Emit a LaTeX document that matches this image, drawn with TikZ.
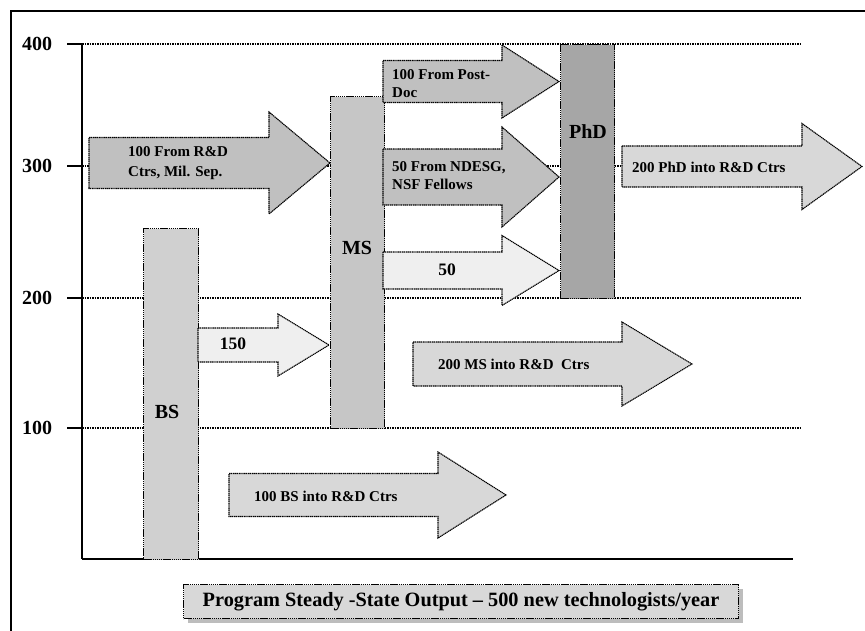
\documentclass[tikz,border=0pt]{standalone}
\usepackage{fontspec}
\setmainfont{Liberation Serif}
\definecolor{gBS}{HTML}{D0D0D0}
\definecolor{gMS}{HTML}{C6C6C6}
\definecolor{gPhD}{HTML}{A6A6A6}
\definecolor{gMid}{HTML}{C0C0C0}
\definecolor{gLight}{HTML}{EFEFEF}
\definecolor{gOut}{HTML}{D8D8D8}
\definecolor{gShadow}{HTML}{BDBDBD}
\newcommand\blkarrow[7]{\draw[arrowbox,fill=#1] (#2,{#5-#6}) -- (#3,{#5-#6}) -- (#3,{#5-#7}) -- (#4,#5) -- (#3,{#5+#7}) -- (#3,{#5+#6}) -- (#2,{#5+#6}) -- cycle;}
\tikzset{
  dotline/.style={draw=black, line width=1.1pt, dash pattern=on 1.3pt off 0.6pt},
  arrowbox/.style={dotline, line join=miter},
  barbox/.style={dotline, rectangle, inner sep=0pt, anchor=north west},
  grid line/.style={draw=black, line width=1.5pt, dash pattern=on 1.8pt off 0.7pt},
  axis line/.style={draw=black, line width=2pt},
  ticklbl/.style={font=\fontsize{20}{22}\selectfont\bfseries, inner sep=0pt},
  barlbl/.style={font=\fontsize{20}{22}\selectfont\bfseries, inner sep=0pt},
  arrlbl/.style={font=\fontsize{15}{18}\selectfont\bfseries, inner sep=0pt, anchor=west, align=left},
  numlbl/.style={font=\fontsize{17.5}{20}\selectfont\bfseries, inner sep=0pt},
}
\begin{document}
\begin{tikzpicture}[x=1pt,y=-1pt]
\useasboundingbox (0,0) rectangle (865,631);
% outer frame
\draw[line width=1.5pt] (11,640) -- (11,11) -- (870,11);
% grid lines
\foreach \yy in {44,166,298,428} {
  \draw[grid line] (82,\yy) -- (800,\yy);
  \draw[axis line] (67,\yy) -- (82,\yy);
}
% axes
\coordinate (axtop) at (82,44);
\coordinate (axorig) at (82,559);
\coordinate (axright) at (793,559);
\draw[axis line] (axtop) -- (axorig);
\draw[axis line, line width=2.5pt] (axorig) -- (axright);
% tick labels
\node[ticklbl] (t400) at (37,44) {400};
\node[ticklbl] (t300) at (37,166) {300};
\node[ticklbl] (t200) at (37,298) {200};
\node[ticklbl] (t100) at (37,428) {100};
% bars
\node[barbox, fill=gBS, minimum width=55pt, minimum height=331pt] (bs) at (143,228) {};
\node[barbox, fill=gMS, minimum width=54pt, minimum height=332pt] (ms) at (330,96) {};
\node[barbox, fill=gPhD, minimum width=54pt, minimum height=254pt] (phd) at (560,44) {};
\node[barlbl] (bslbl) at (167,412) {BS};
\node[barlbl] (mslbl) at (357,248) {MS};
\node[barlbl] (phdlbl) at (588,132) {PhD};
% block arrows
\blkarrow{gMid}{89}{269}{330}{163}{25.5}{51}
\node[arrlbl, font=\fontsize{15}{20}\selectfont\bfseries] (rd) at (128,163) {100 From R\&D\\Ctrs, Mil. Sep.};
\blkarrow{gMid}{383}{502}{559}{81.5}{21}{36.5}
\node[arrlbl] (pd) at (392,84) {100 From Post-\\Doc};
\blkarrow{gMid}{383}{502}{559}{177}{28}{50}
\node[arrlbl] (nd) at (392,176) {50 From NDESG,\\NSF Fellows};
\blkarrow{gLight}{383}{502}{559}{270.5}{18.5}{35}
\node[numlbl] (fifty) at (447,270) {50};
\blkarrow{gOut}{622}{802}{862}{166.5}{20.5}{43}
\node[arrlbl] (phdout) at (632,167) {200 PhD into R\&D Ctrs};
\blkarrow{gLight}{198}{278}{329}{345}{17}{31}
\node[numlbl] (onefifty) at (233,344) {150};
\blkarrow{gOut}{413}{622}{692}{364}{22}{42}
\node[arrlbl] (msout) at (438,364) {200 MS into R\&D\ \ Ctrs};
\blkarrow{gOut}{229}{438}{506}{495}{21.5}{43}
\node[arrlbl] (bsout) at (254,496) {100 BS into R\&D Ctrs};
% summary box
\fill[gShadow] (188,589) rectangle (743,623);
\node[dotline, fill=gOut, rectangle, inner sep=0pt, minimum width=555pt, minimum height=34pt, anchor=north west] (sumbox) at (183,584) {};
\node[font=\fontsize{20.3}{22}\selectfont\bfseries, inner sep=0pt] (sumtxt) at (sumbox.center) {Program Steady -State Output -- 500 new technologists/year};
\end{tikzpicture}
\end{document}
